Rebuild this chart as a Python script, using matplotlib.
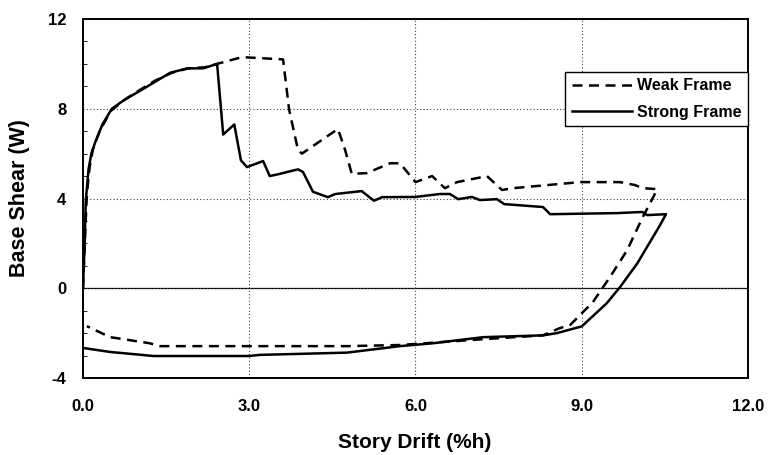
import matplotlib
matplotlib.use("Agg")
import matplotlib.pyplot as plt
from matplotlib.ticker import MultipleLocator, FormatStrFormatter

# Strong frame (solid)
strong_x = [0.0, 0.03, 0.05, 0.1, 0.15, 0.22, 0.35, 0.52, 0.75, 1.03, 1.3, 1.57, 1.88, 2.17, 2.42,
            2.53, 2.73, 2.85, 2.96, 3.25, 3.37, 3.52, 3.88, 3.97, 4.15, 4.42, 4.55, 5.03, 5.25, 5.4,
            6.0, 6.44, 6.62, 6.77, 7.02, 7.16, 7.47, 7.6, 8.3, 8.43, 9.65, 10.09, 10.18, 10.52,
            10.41, 10.0, 9.69, 9.45, 9.0, 8.55, 8.3, 7.22, 6.32, 5.72, 4.76, 3.19, 3.0, 1.27, 1.06,
            0.49, 0.0]
strong_y = [0.0, 2.0, 3.9, 5.3, 6.0, 6.5, 7.3, 8.0, 8.4, 8.8, 9.2, 9.6, 9.8, 9.8, 10.0,
            6.85, 7.3, 5.7, 5.4, 5.67, 5.0, 5.08, 5.3, 5.18, 4.3, 4.06, 4.2, 4.33, 3.9, 4.06,
            4.07, 4.2, 4.2, 3.97, 4.07, 3.93, 3.97, 3.75, 3.62, 3.3, 3.35, 3.4, 3.26, 3.3,
            2.8, 1.1, 0.05, -0.67, -1.7, -2.0, -2.1, -2.18, -2.45, -2.58, -2.87, -2.97, -3.02, -3.02, -2.97,
            -2.84, -2.66]

# Weak frame (dashed)
weak_x = [0.0, 0.04, 0.07, 0.12, 0.18, 0.3, 0.5, 0.75, 1.0, 1.3, 1.6, 1.9, 2.2, 2.42,
          2.87, 3.61, 3.72, 3.88, 3.95, 4.6, 4.73, 4.85, 5.12, 5.54, 5.72, 6.0, 6.3, 6.53, 6.75,
          7.29, 7.56, 7.76, 8.97, 9.15, 9.69, 9.96, 10.1, 10.36,
          10.29, 10.1, 9.82, 9.51, 9.2, 8.79, 8.6, 8.3, 7.22, 5.72, 4.76, 1.39, 1.2, 0.49, 0.07]
weak_y = [0.0, 2.5, 4.2, 5.4, 6.2, 7.0, 7.9, 8.4, 8.8, 9.25, 9.6, 9.8, 9.85, 10.0,
          10.3, 10.2, 7.95, 6.16, 6.0, 7.1, 6.16, 5.1, 5.13, 5.57, 5.57, 4.73, 5.0, 4.46, 4.73,
          5.0, 4.38, 4.46, 4.73, 4.73, 4.73, 4.6, 4.46, 4.42,
          4.06, 3.17, 1.7, 0.5, -0.62, -1.64, -1.78, -2.1, -2.27, -2.53, -2.58, -2.58, -2.45, -2.18, -1.69]

x_ticks = [0.0, 3.0, 6.0, 9.0, 12.0]
y_ticks = [-4, 0, 4, 8, 12]

plt.rcParams['font.family'] = ['Liberation Sans', 'DejaVu Sans']
plt.rcParams['font.weight'] = 'bold'

fig = plt.figure(figsize=(7.69, 4.55), dpi=100)
ax = fig.add_axes([83/769, 1-378/455, (748-83)/769, (378-19)/455])

ax.plot(weak_x, weak_y, color='black', lw=1.8, dashes=(4, 2.6), label='Weak Frame')
ax.plot(strong_x, strong_y, color='black', lw=1.8, label='Strong Frame')

ax.axhline(0, color='black', lw=0.9, zorder=1)
ax.set_xlim(0, 12)
ax.set_ylim(-4, 12)
ax.set_xticks(x_ticks)
ax.set_yticks(y_ticks)
ax.xaxis.set_major_formatter(FormatStrFormatter('%.1f'))
ax.yaxis.set_major_formatter(FormatStrFormatter('%d'))
ax.tick_params(axis='both', length=0, labelsize=12)
ax.tick_params(axis='x', pad=15)
ax.tick_params(axis='y', pad=12)
ax.yaxis.set_minor_locator(MultipleLocator(1))
ax.tick_params(axis='y', which='minor', direction='in', length=3, width=0.6)
for lbl in ax.get_xticklabels() + ax.get_yticklabels():
    lbl.set_fontweight('bold')

ax.grid(True, which='major', color='#444444', lw=0.8, linestyle=(0, (1, 2)))
for s in ax.spines.values():
    s.set_linewidth(1.4)
    s.set_color('black')

leg = ax.legend(loc='upper right', bbox_to_anchor=(1.0, 1 - 53/359), frameon=True, fancybox=False,
                edgecolor='black', framealpha=1, fontsize=11.5, handlelength=3.8,
                borderpad=0.4, labelspacing=0.7, handletextpad=0.3, borderaxespad=0)
leg.get_frame().set_linewidth(1.0)
for t in leg.get_texts():
    t.set_fontweight('bold')

fig.text(415/769, 1-443/455, 'Story Drift (%h)', ha='center', va='center', fontsize=15, fontweight='bold')
fig.text(20/769, 1-198/455, 'Base Shear (W)', ha='center', va='center', rotation=90, fontsize=15.5, fontweight='bold')

fig.savefig('out.png', dpi=100)
